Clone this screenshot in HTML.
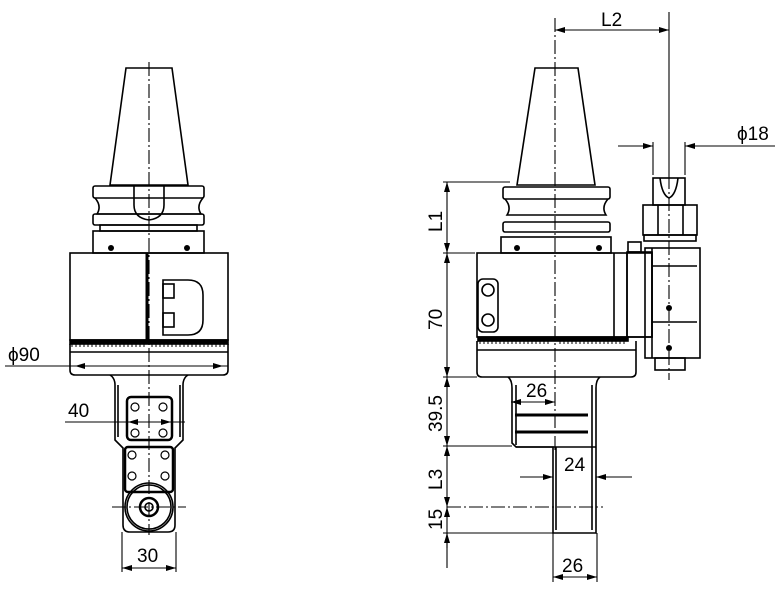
<!DOCTYPE html>
<html><head><meta charset="utf-8"><style>
html,body{margin:0;padding:0;background:#fff;}
svg{display:block;}
text{font-family:"Liberation Sans",sans-serif;font-size:19px;fill:#000;}
</style></head><body>
<svg width="784" height="589" viewBox="0 0 784 589" xmlns="http://www.w3.org/2000/svg">
<defs>
<marker id="a" viewBox="0 0 10 6" refX="10" refY="3" markerWidth="10" markerHeight="6" orient="auto-start-reverse" markerUnits="userSpaceOnUse"><path d="M0,0L10,3L0,6z" fill="#000"/></marker>
</defs>
<g fill="none" stroke="#000" stroke-width="1.6">
<!-- LEFT VIEW -->
<path d="M126,68L172,68L188,185L110,185Z" fill="#fff"/>
<rect x="93" y="186" width="111" height="12" rx="2"/>
<path d="M95,198 Q102,206 97,214 L201,214 Q196,206 203,198"/>
<rect x="93" y="214" width="111" height="11" rx="2"/>
<rect x="100" y="225" width="97" height="6"/>
<rect x="93" y="231" width="111" height="22"/>
<path d="M134,186 L134,205 Q134,218 149,220 Q164,218 164,205 L164,186"/>
<rect x="70" y="253" width="158" height="87"/>
<line x1="147" y1="253" x2="147" y2="340" stroke-width="3"/>
<path d="M163,280 L188,280 Q203,280 203,295 L203,320 Q203,335 188,335 L163,335 Z"/>
<rect x="163" y="284" width="11" height="14"/><rect x="163" y="313" width="11" height="14"/>
<rect x="70" y="340" width="158" height="4" fill="#000"/>
<path d="M70,344 L70,370 Q70,375 75,375 L223,375 Q228,375 228,370 L228,344"/>
<line x1="70" y1="352" x2="228" y2="352"/>
<path d="M110,375 Q115,378 115,385 L115,440 L123,448 L123,525 Q123,532 130,532 L168,532 Q175,532 175,525 L175,448 L183,440 L183,385 Q183,378 188,375"/>
<path d="M118,385 L118,437 M180,385 L180,437"/>
<rect x="127" y="397" width="45" height="43" rx="4" stroke-width="2.5"/>
<rect x="125" y="447" width="48" height="45" rx="3" stroke-width="2.5"/>
<circle cx="149" cy="507" r="24"/><circle cx="149" cy="507" r="22"/>
<circle cx="149" cy="507" r="9" stroke-width="2.5"/><circle cx="149" cy="507" r="4"/>
<!-- RIGHT VIEW -->
<path d="M535,68L578,68L595,185L517,185Z" fill="#fff"/>
<rect x="503" y="187" width="107" height="12" rx="2"/>
<path d="M505,199 Q512,207 507,215 L606,215 Q601,207 608,199"/>
<rect x="503" y="222" width="107" height="10" rx="2"/>
<rect x="501" y="237" width="110" height="16"/>
<rect x="477" y="253" width="175" height="84"/>
<line x1="614" y1="253" x2="614" y2="337"/><line x1="627" y1="253" x2="627" y2="337"/>
<rect x="478" y="279" width="20" height="53" rx="5"/>
<circle cx="488" cy="290" r="6"/><circle cx="488" cy="320" r="6"/>
<rect x="478" y="337" width="150" height="4" fill="#000"/>
<path d="M477,341 L477,372 Q477,377 482,377 L631,377 Q636,377 636,372 L636,341"/>
<line x1="477" y1="350" x2="636" y2="350"/>
<path d="M508,377 Q512,380 512,388 L512,443 L516,447 L553,447 L553,533 L596,533 L596,388 Q596,380 600,377"/>
<path d="M516,385 L516,445 M592,385 L592,530 M556,447 L556,530 M516,447 L596,447"/>
<line x1="515" y1="415" x2="588" y2="415" stroke-width="3"/><line x1="515" y1="432" x2="588" y2="432" stroke-width="3"/>
<rect x="627" y="252" width="25" height="85"/>
<rect x="628" y="242" width="13" height="10"/>
<rect x="645" y="248" width="55" height="110"/>
<line x1="652" y1="248" x2="652" y2="358"/>
<line x1="652" y1="266" x2="697" y2="266"/><line x1="652" y1="322" x2="697" y2="322"/>
<rect x="643" y="205" width="54" height="30"/>
<line x1="658" y1="205" x2="658" y2="235"/><line x1="683" y1="205" x2="683" y2="235"/>
<rect x="644" y="235" width="52" height="6"/>
<rect x="653" y="178" width="32" height="27"/>
<path d="M660,178 Q662,195 669,198 Q676,195 678,178"/>
<rect x="655" y="358" width="30" height="12"/>
</g>
<g fill="#000">
<circle cx="111" cy="248" r="3"/><circle cx="187" cy="248" r="3"/>
<circle cx="517" cy="248" r="3"/><circle cx="599" cy="248" r="3"/>
<circle cx="669" cy="308" r="3"/><circle cx="669" cy="348" r="3"/>
</g>
<g fill="none" stroke="#000" stroke-width="1.2">
<circle cx="135" cy="407" r="4"/><circle cx="163" cy="407" r="4"/><circle cx="135" cy="433" r="4"/><circle cx="163" cy="433" r="4"/>
<circle cx="132" cy="455" r="4"/><circle cx="165" cy="455" r="4"/><circle cx="132" cy="476" r="4"/><circle cx="165" cy="476" r="4"/>
</g>
<!-- scale ticks -->
<g stroke="#000" stroke-width="1"><path d="M72,344 v3 M76,344 v3 M80,344 v3 M84,344 v3 M88,344 v3 M92,344 v3 M96,344 v3 M100,344 v3 M104,344 v3 M108,344 v3 M112,344 v3 M116,344 v3 M120,344 v3 M124,344 v3 M128,344 v3 M132,344 v3 M136,344 v3 M140,344 v3 M144,344 v3 M152,344 v3 M156,344 v3 M160,344 v3 M164,344 v3 M168,344 v3 M172,344 v3 M176,344 v3 M180,344 v3 M184,344 v3 M188,344 v3 M192,344 v3 M196,344 v3 M200,344 v3 M204,344 v3 M208,344 v3 M212,344 v3 M216,344 v3 M220,344 v3 M224,344 v3"/>
<path d="M480,341 v3 M484,341 v3 M488,341 v3 M492,341 v3 M496,341 v3 M500,341 v3 M504,341 v3 M508,341 v3 M512,341 v3 M516,341 v3 M520,341 v3 M524,341 v3 M528,341 v3 M532,341 v3 M536,341 v3 M540,341 v3 M544,341 v3 M548,341 v3 M560,341 v3 M564,341 v3 M568,341 v3 M572,341 v3 M576,341 v3 M580,341 v3 M584,341 v3 M588,341 v3 M592,341 v3 M596,341 v3 M600,341 v3 M604,341 v3 M608,341 v3 M612,341 v3 M616,341 v3 M620,341 v3 M624,341 v3"/></g>
<!-- center lines -->
<g stroke="#000" stroke-width="1.1" stroke-dasharray="14,3,2,3" fill="none">
<line x1="149" y1="62" x2="149" y2="535"/>
<line x1="112" y1="507" x2="186" y2="507"/>
<line x1="555" y1="18" x2="555" y2="450"/>
<line x1="669" y1="175" x2="669" y2="380"/>
<line x1="447" y1="507" x2="603" y2="507"/>
</g>
<!-- dimensions -->
<g stroke="#000" stroke-width="1.1" fill="none">
<line x1="5" y1="366" x2="228" y2="366"/>
<line x1="75" y1="366" x2="223" y2="366" marker-start="url(#a)" marker-end="url(#a)"/>
<line x1="65" y1="422" x2="185" y2="422"/>
<line x1="128" y1="422" x2="171" y2="422" marker-start="url(#a)" marker-end="url(#a)"/>
<line x1="122" y1="532" x2="122" y2="572"/><line x1="176" y1="532" x2="176" y2="572"/>
<line x1="122" y1="568" x2="176" y2="568" marker-start="url(#a)" marker-end="url(#a)"/>
<line x1="669" y1="12" x2="669" y2="175"/>
<line x1="555" y1="30" x2="669" y2="30" marker-start="url(#a)" marker-end="url(#a)"/>
<line x1="653" y1="142" x2="653" y2="175"/><line x1="685" y1="142" x2="685" y2="175"/>
<line x1="618" y1="146" x2="653" y2="146" marker-end="url(#a)"/>
<line x1="775" y1="146" x2="685" y2="146" marker-end="url(#a)"/>
<line x1="443" y1="182" x2="510" y2="182"/>
<line x1="443" y1="253" x2="475" y2="253"/>
<line x1="443" y1="377" x2="477" y2="377"/>
<line x1="443" y1="446" x2="512" y2="446"/>
<line x1="443" y1="533" x2="553" y2="533"/>
<line x1="447" y1="182" x2="447" y2="253" marker-start="url(#a)" marker-end="url(#a)"/>
<line x1="447" y1="253" x2="447" y2="377" marker-start="url(#a)" marker-end="url(#a)"/>
<line x1="447" y1="377" x2="447" y2="446" marker-start="url(#a)" marker-end="url(#a)"/>
<line x1="447" y1="446" x2="447" y2="507" marker-start="url(#a)" marker-end="url(#a)"/>
<line x1="447" y1="507" x2="447" y2="533" marker-start="url(#a)"/>
<line x1="447" y1="533" x2="447" y2="568"/>
<line x1="447" y1="548" x2="447" y2="533" marker-end="url(#a)"/>
<line x1="511" y1="402" x2="555" y2="402" marker-start="url(#a)" marker-end="url(#a)"/>
<line x1="520" y1="477" x2="553" y2="477" marker-end="url(#a)"/>
<line x1="632" y1="477" x2="596" y2="477" marker-end="url(#a)"/>
<line x1="553" y1="533" x2="553" y2="582"/><line x1="597" y1="533" x2="597" y2="582"/>
<line x1="553" y1="577" x2="597" y2="577" marker-start="url(#a)" marker-end="url(#a)"/>
</g>
<g>
<text x="8" y="361">ϕ90</text>
<text x="68" y="417">40</text>
<text x="137" y="562">30</text>
<text x="601" y="26">L2</text>
<text x="737" y="140">ϕ18</text>
<text x="526" y="397">26</text>
<text x="564" y="471">24</text>
<text x="562" y="572">26</text>
<text transform="translate(442,232) rotate(-90)">L1</text>
<text transform="translate(442,330) rotate(-90)">70</text>
<text transform="translate(442,432) rotate(-90)">39.5</text>
<text transform="translate(442,490) rotate(-90)">L3</text>
<text transform="translate(442,530) rotate(-90)">15</text>
</g>
</svg>
</body></html>
